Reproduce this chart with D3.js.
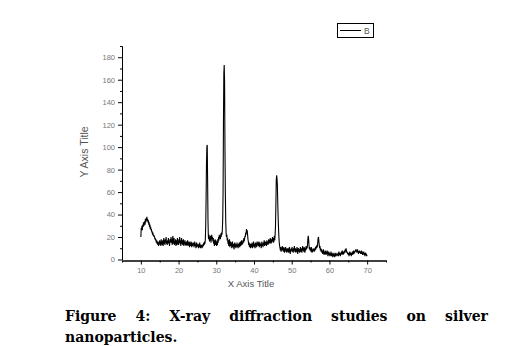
<!DOCTYPE html>
<html>
<head>
<meta charset="utf-8">
<script src="https://cdn.jsdelivr.net/npm/d3@7"></script>
<style>
    body { margin: 0; background: #fff; }
    #chart-area { width: 511px; height: 346px; }
</style>
</head>
<body>
<div id="chart-area"></div>
<script>

// data: XRD pattern, 2-theta from 10 to 70 in 0.1 steps
let twoThetaStart = 10;
let twoThetaStep = 0.1;
let intensity = [
    20, 28, 27, 30, 26, 31, 29, 33, 30, 32,   // 10
    34, 31, 36, 33, 37, 35, 38, 34, 36, 33,   // 11
    35, 31, 33, 29, 31, 27, 29, 26, 27, 24,   // 12
    25, 22, 24, 21, 22, 20, 21, 18, 19, 17,   // 13
    18, 15, 17, 14, 16, 13, 15, 12, 16, 14,   // 14
    17, 13, 16, 12, 18, 14, 15, 13, 17, 12,   // 15
    16, 19, 14, 17, 13, 18, 15, 20, 14, 16,   // 16
    13, 17, 15, 19, 14, 16, 12, 18, 15, 17,   // 17
    20, 15, 18, 13, 17, 21, 14, 16, 19, 13,   // 18
    16, 14, 18, 12, 15, 17, 13, 19, 14, 16,   // 19
    13, 18, 15, 20, 14, 17, 12, 16, 19, 14,   // 20
    17, 13, 15, 18, 12, 16, 14, 17, 13, 15,   // 21
    12, 16, 14, 13, 17, 12, 15, 13, 16, 11,   // 22
    14, 15, 12, 16, 13, 11, 15, 12, 14, 13,   // 23
    15, 11, 13, 16, 12, 14, 10, 13, 15, 11,   // 24
    13, 12, 14, 10, 13, 11, 15, 12, 10, 13,   // 25
    11, 13, 10, 12, 11, 14, 12, 15, 13, 16,   // 26
    14, 18, 30, 55, 85, 100, 102, 70, 35, 20, // 27
    18, 22, 16, 20, 17, 21, 15, 19, 22, 18,   // 28
    20, 16, 19, 14, 17, 12, 15, 18, 13, 17,   // 29
    14, 12, 16, 13, 18, 15, 20, 17, 22, 19,   // 30
    21, 18, 23, 20, 24, 22, 26, 35, 60, 120,  // 31
    165, 173, 158, 100, 60, 35, 24, 20, 22, 17, // 32
    19, 14, 17, 12, 15, 18, 11, 14, 16, 12,   // 33
    15, 10, 13, 16, 11, 14, 12, 9, 13, 15,    // 34
    11, 14, 10, 13, 12, 15, 11, 13, 10, 14,   // 35
    12, 15, 11, 13, 16, 12, 14, 17, 13, 15,   // 36
    14, 17, 15, 19, 16, 18, 21, 20, 24, 22,   // 37
    27, 25, 26, 22, 18, 16, 13, 15, 11, 14,   // 38
    12, 10, 14, 11, 13, 15, 10, 14, 12, 16,   // 39
    11, 14, 13, 10, 15, 12, 14, 11, 16, 13,   // 40
    15, 12, 14, 16, 11, 13, 15, 12, 14, 10,   // 41
    13, 16, 12, 14, 11, 15, 13, 17, 12, 14,   // 42
    16, 13, 15, 12, 17, 14, 16, 13, 15, 18,   // 43
    14, 17, 15, 19, 16, 14, 18, 15, 17, 20,   // 44
    16, 19, 15, 18, 21, 17, 22, 30, 48, 70,   // 45
    75, 72, 66, 50, 38, 28, 20, 15, 12, 10,   // 46
    8, 11, 7, 10, 9, 12, 8, 10, 7, 11,        // 47
    9, 6, 10, 8, 11, 7, 9, 6, 10, 8,          // 48
    7, 10, 6, 9, 11, 8, 5, 9, 7, 10,          // 49
    8, 11, 7, 9, 6, 10, 8, 12, 7, 9,          // 50
    10, 6, 9, 7, 11, 8, 5, 9, 10, 7,          // 51
    9, 6, 8, 11, 7, 10, 8, 6, 9, 12,          // 52
    8, 10, 7, 11, 9, 6, 10, 8, 12, 9,         // 53
    11, 10, 14, 19, 21, 17, 12, 9, 11, 8,     // 54
    10, 7, 11, 8, 6, 9, 7, 10, 8, 9,          // 55
    7, 10, 8, 11, 9, 12, 10, 13, 11, 15,      // 56
    19, 20, 16, 13, 10, 12, 8, 10, 7, 9,      // 57
    6, 8, 5, 7, 9, 6, 4, 7, 5, 8,             // 58
    6, 4, 7, 5, 8, 6, 3, 5, 7, 4,             // 59
    6, 3, 5, 4, 7, 3, 5, 6, 4, 2,             // 60
    5, 3, 6, 4, 2, 5, 3, 6, 4, 5,             // 61
    3, 5, 4, 6, 3, 7, 5, 4, 6, 3,             // 62
    6, 4, 7, 5, 8, 6, 4, 7, 5, 6,             // 63
    8, 6, 9, 7, 10, 8, 6, 7, 5, 6,            // 64
    4, 6, 3, 5, 7, 4, 6, 5, 3, 6,             // 65
    5, 7, 4, 6, 8, 5, 7, 6, 8, 7,             // 66
    9, 7, 8, 6, 9, 7, 8, 5, 7, 6,             // 67
    8, 6, 7, 5, 6, 8, 5, 7, 4, 6,             // 68
    5, 7, 4, 6, 3, 5, 6, 4, 5, 3,             // 69
    4                                         // 70
];

let xDomain = [5, 75];
let yDomain = [0, 190];
let xMajorTicks = [10, 20, 30, 40, 50, 60, 70];
let xMinorTicks = [5, 15, 25, 35, 45, 55, 65, 75];
let yMajorTicks = [0, 20, 40, 60, 80, 100, 120, 140, 160, 180];
let yMinorTicks = [10, 30, 50, 70, 90, 110, 130, 150, 170, 190];

let xTitle = "X Axis Title";
let yTitle = "Y Axis Title";
let seriesName = "B";
let captionLine1 = ["Figure", "4:", "X-ray", "diffraction", "studies", "on", "silver"];
let captionLine2 = "nanoparticles.";


let svg = d3.select("#chart-area").append("svg")
    .attr("width", 511)
    .attr("height", 346);

// plot area
let plot = {left: 122, right: 386, top: 46, bottom: 259.5};

let x = d3.scaleLinear().domain(xDomain).range([plot.left, plot.right]);
let y = d3.scaleLinear().domain(yDomain).range([plot.bottom, plot.top]);

let points = intensity.map((v, i) => ({t: twoThetaStart + i * twoThetaStep, v: v}));

// axes
svg.append("g")
    .attr("transform", `translate(0, ${plot.bottom + 1})`)
    .call(d3.axisBottom(x).tickValues(xMajorTicks).tickSize(4).tickSizeOuter(0).tickPadding(3));
svg.append("g")
    .attr("transform", `translate(0, ${plot.bottom + 1})`)
    .call(d3.axisBottom(x).tickValues(xMinorTicks).tickSize(2).tickSizeOuter(0).tickFormat(""));

svg.append("g")
    .attr("transform", `translate(${plot.left}, 0)`)
    .call(d3.axisLeft(y).tickValues(yMajorTicks).tickSize(4).tickSizeOuter(0).tickPadding(3));
svg.append("g")
    .attr("transform", `translate(${plot.left}, 0)`)
    .call(d3.axisLeft(y).tickValues(yMinorTicks).tickSize(2).tickSizeOuter(0).tickFormat(""));

svg.selectAll(".domain, .tick line")
    .attr("stroke", "#000")
    .attr("stroke-width", 1);
svg.selectAll(".tick text")
    .attr("fill", "#777")
    .style("font-family", "Arial, 'Liberation Sans', sans-serif")
    .style("font-size", "7.5px");

// axis titles
svg.append("text")
    .attr("x", 251)
    .attr("y", 287)
    .attr("text-anchor", "middle")
    .attr("fill", "#555")
    .style("font-family", "Arial, 'Liberation Sans', sans-serif")
    .style("font-size", "9.5px")
    .text(xTitle);

svg.append("text")
    .attr("transform", "translate(88, 152) rotate(-90)")
    .attr("text-anchor", "middle")
    .attr("fill", "#555")
    .style("font-family", "Arial, 'Liberation Sans', sans-serif")
    .style("font-size", "10.5px")
    .text(yTitle);

// pattern line
let line = d3.line()
    .x(d => x(d.t))
    .y(d => y(d.v));

svg.append("path")
    .datum(points)
    .attr("fill", "none")
    .attr("stroke", "#000")
    .attr("stroke-width", 1.1)
    .attr("d", line);

// legend
let legend = svg.append("g");
legend.append("rect")
    .attr("x", 337.5).attr("y", 23.5)
    .attr("width", 36).attr("height", 14)
    .attr("fill", "#fff")
    .attr("stroke", "#000");
legend.append("line")
    .attr("x1", 340).attr("x2", 361)
    .attr("y1", 30.5).attr("y2", 30.5)
    .attr("stroke", "#000");
legend.append("text")
    .attr("x", 364).attr("y", 33.5)
    .attr("fill", "#555")
    .style("font-family", "Arial, 'Liberation Sans', sans-serif")
    .style("font-size", "8.5px")
    .text(seriesName);

// caption, first line justified
let capLeft = 65, capRight = 488;
let capFont = "DejaVu Serif, serif";

let words = svg.append("g").selectAll("text")
    .data(captionLine1)
    .enter().append("text")
    .attr("y", 321)
    .attr("fill", "#000")
    .style("font-family", capFont)
    .style("font-weight", "bold")
    .style("font-size", "14px")
    .text(d => d);

let widths = [];
words.each(function () { widths.push(this.getComputedTextLength()); });
let gap = (capRight - capLeft - d3.sum(widths)) / (captionLine1.length - 1);
let cursor = capLeft;
words.attr("x", (d, i) => {
    let pos = cursor;
    cursor += widths[i] + gap;
    return pos;
});

svg.append("text")
    .attr("x", capLeft)
    .attr("y", 341.5)
    .attr("fill", "#000")
    .style("font-family", capFont)
    .style("font-weight", "bold")
    .style("font-size", "14px")
    .text(captionLine2);

</script>
</body>
</html>
